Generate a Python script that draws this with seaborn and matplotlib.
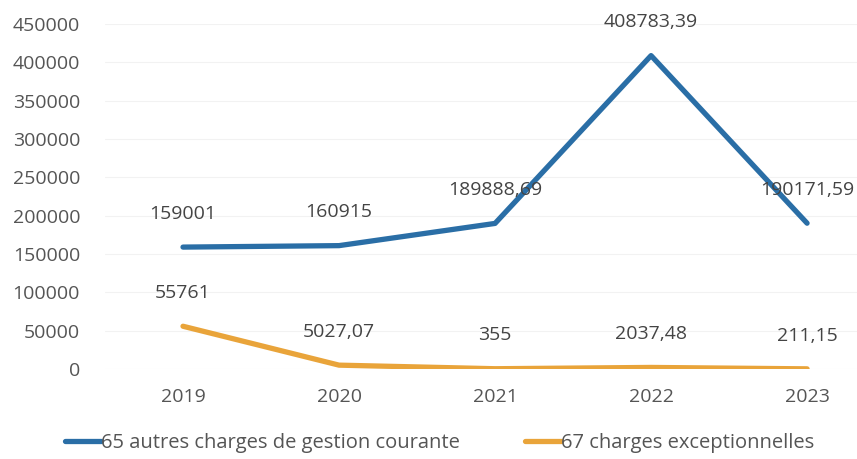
import matplotlib.pyplot as plt
import seaborn as sns
import pandas as pd

years = ["2019", "2020", "2021", "2022", "2023"]
charges_65 = [159001, 160915, 189888.69, 408783.39, 190171.59]
charges_67 = [55761, 5027.07, 355, 2037.48, 211.15]
labels_65 = ["159001", "160915", "189888,69", "408783,39", "190171,59"]
labels_67 = ["55761", "5027,07", "355", "2037,48", "211,15"]
name_65 = "65 autres charges de gestion courante"
name_67 = "67 charges exceptionnelles"

df = pd.DataFrame({
    "annee": years * 2,
    "montant": charges_65 + charges_67,
    "compte": [name_65] * 5 + [name_67] * 5,
})

sns.set_style("white")
plt.rcParams["font.family"] = ["Open Sans", "DejaVu Sans"]

fig = plt.figure(figsize=(8.57, 4.59), dpi=100)
ax = fig.add_axes([105 / 857, 1 - 369 / 459, 752 / 857, 345 / 459])

sns.lineplot(data=df, x="annee", y="montant", hue="compte", sort=False,
             palette=["#2a6ea6", "#e9a43a"], linewidth=3.8, ax=ax)

ax.set_ylim(0, 450000)
ax.set_xlim(-0.5, 4.32)
ax.set_yticks(range(0, 450001, 50000))
ax.yaxis.grid(True, color="#f2f2f2", linewidth=0.8)
ax.set_xlabel("")
ax.set_ylabel("")
for s in ax.spines.values():
    s.set_visible(False)
ax.tick_params(axis="both", length=0, labelsize=14, labelcolor="#555555")
ax.tick_params(axis="x", pad=14)
ax.tick_params(axis="y", pad=18)

for i in range(len(years)):
    ax.annotate(labels_65[i], (i, charges_65[i]), xytext=(0, 24), textcoords="offset points",
                ha="center", va="center", fontsize=14, color="#444444")
    ax.annotate(labels_67[i], (i, charges_67[i]), xytext=(0, 24), textcoords="offset points",
                ha="center", va="center", fontsize=14, color="#444444")

ax.legend(loc="center", bbox_to_anchor=(0.445, -0.215), ncol=2, frameon=False,
          fontsize=14.5, handlelength=1.8, handletextpad=0.0, columnspacing=3.2,
          labelcolor="#555555")

fig.savefig("out.png", dpi=100)
